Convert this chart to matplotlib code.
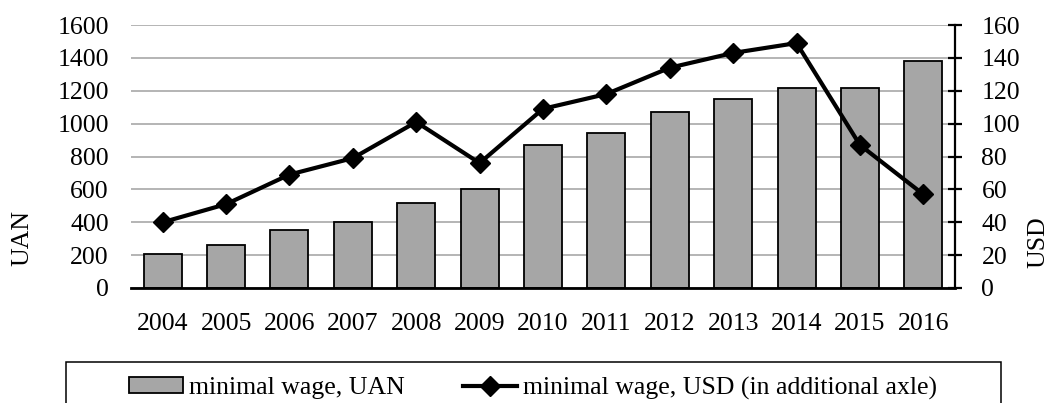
import matplotlib
matplotlib.use("Agg")
import matplotlib.pyplot as plt
from matplotlib.patches import Rectangle

plt.rcParams['font.family'] = ['Liberation Serif', 'DejaVu Serif']

years = ['2004', '2005', '2006', '2007', '2008', '2009', '2010',
         '2011', '2012', '2013', '2014', '2015', '2016']
wage_uan = [205, 262, 350, 400, 515, 605, 869, 941, 1073, 1147, 1218, 1218, 1378]
wage_usd = [40, 51, 69, 79, 101, 76, 109, 118, 134, 143, 149, 87, 57]

W, H = 1048, 403
fig = plt.figure(figsize=(W / 100, H / 100), dpi=100)
ax = fig.add_axes([131 / W, (H - 288) / H, (955 - 131) / W, (288 - 25) / H])
ax2 = ax.twinx()

x = range(len(years))
bars = ax.bar(x, wage_uan, width=0.6, color='#a6a6a6', edgecolor='black',
              linewidth=1.3, zorder=2, label='minimal wage, UAN')
ax.set_xlim(-0.5, len(years) - 0.5)
ax.set_ylim(0, 1600)
ax.set_yticks(range(0, 1601, 200))
ax.set_xticks(list(x))
ax.set_xticklabels(years)
ax.yaxis.grid(True, color='#a0a0a0', linewidth=1.1, zorder=0)
ax.set_axisbelow(True)
for s in ['left', 'top', 'right']:
    ax.spines[s].set_visible(False)
ax.spines['bottom'].set_linewidth(2)
ax.spines['bottom'].set_zorder(3)
ax.tick_params(axis='x', length=0, pad=18, labelsize=18.5)
ax.tick_params(axis='y', length=0, pad=16, labelsize=18.5)

line, = ax2.plot(list(x), wage_usd, color='black', linewidth=3, marker='D',
                 markersize=10, zorder=4,
                 label='minimal wage, USD (in additional axle)')
ax2.set_ylim(0, 160)
ax2.set_yticks(range(0, 161, 20))
for s in ['left', 'top', 'bottom']:
    ax2.spines[s].set_visible(False)
ax2.spines['right'].set_linewidth(1.6)
ax2.tick_params(axis='y', direction='inout', length=10, width=1.6,
                pad=14, labelsize=18.5)

fig.text(22 / W, (H - 238) / H, 'UAN', rotation=90, fontsize=18.5,
         ha='center', va='center')
fig.text(1038 / W, (H - 242) / H, 'USD', rotation=90, fontsize=18.5,
         ha='center', va='center')

# legend box runs off the bottom edge
fig.patches.append(Rectangle((66 / W, -0.05), (1001 - 66) / W, (H - 362) / H + 0.05,
                             transform=fig.transFigure, fill=False,
                             edgecolor='black', linewidth=1.1))
fig.legend([bars, line], [bars.get_label(), line.get_label()],
           loc='center', bbox_to_anchor=(533 / W, (H - 388) / H), ncol=2,
           frameon=False, fontsize=18.5, handlelength=2.1, handleheight=0.55,
           handletextpad=0.2, columnspacing=2.3, borderpad=0)

fig.savefig('out.png', dpi=100)
